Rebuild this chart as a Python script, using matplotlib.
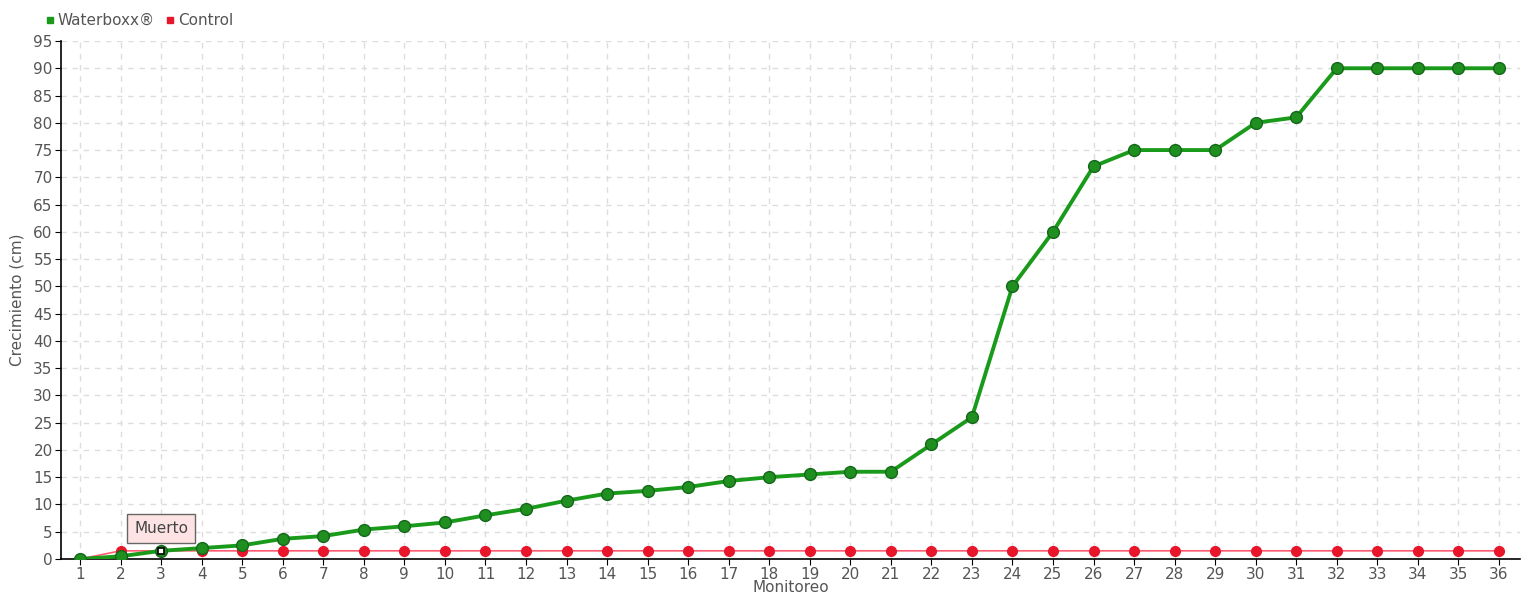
import matplotlib.pyplot as plt
from matplotlib.lines import Line2D

monitoreo = list(range(1, 37))
waterboxx = [0, 0.5, 1.5, 2, 2.5, 3.7, 4.2, 5.4, 6, 6.7, 8, 9.2, 10.7, 12, 12.5, 13.2,
             14.3, 15, 15.5, 16, 16, 21, 26, 50, 60, 72, 75, 75, 75, 80, 81, 90,
             90, 90, 90, 90]
control = [0] + [1.5] * 35
muerto_idx = 2  # monitoreo 3

plt.rcParams['font.family'] = ['Liberation Sans Narrow', 'DejaVu Sans']
txt = '#555555'
fs = 11

fig = plt.figure(figsize=(15.4, 6), dpi=100)
ax = fig.add_axes([61 / 1540, 41 / 600, 1459 / 1540, 518 / 600])

ax.plot(monitoreo, control, color='#ff5a70', lw=1.2, zorder=3,
        marker='o', ms=7, mfc='#e8162a', mec='#e8162a')
ax.plot(monitoreo, waterboxx, color='#1a9a1a', lw=2.8, zorder=4,
        marker='o', ms=8.5, mfc='#1f8f1f', mec='#14661a', mew=1)

# dead marker on control
ax.plot(monitoreo[muerto_idx], control[muerto_idx], marker='s', ms=5,
        mfc='white', mec='black', mew=1.2, zorder=6, ls='none')
ax.annotate('Muerto', xy=(monitoreo[muerto_idx], control[muerto_idx]),
            xytext=(0, 16), textcoords='offset points', ha='center', va='center',
            fontsize=fs, color='#444444', zorder=7,
            bbox=dict(boxstyle='square,pad=0.45', fc='#fde3e3', ec='#666666', lw=1))

ax.set_xlim(0.53, 36.52)
ax.set_ylim(0, 95)
ax.set_xticks(monitoreo)
ax.set_yticks(range(0, 96, 5))
ax.grid(True, ls=(0, (4, 4)), color='#dddddd', lw=1)
ax.set_axisbelow(True)
for s in ['top', 'right']:
    ax.spines[s].set_visible(False)
ax.spines['left'].set_linewidth(1.2)
ax.spines['bottom'].set_linewidth(1.2)
ax.tick_params(labelsize=fs, colors=txt, length=4, pad=2)
ax.tick_params(axis='both', color='black')
ax.set_xlabel('Monitoreo', fontsize=fs, color=txt, labelpad=-2)
ax.set_ylabel('Crecimiento (cm)', fontsize=fs, color=txt, labelpad=6)

handles = [Line2D([], [], ls='none', marker='s', ms=5, color='#1a9a1a'),
           Line2D([], [], ls='none', marker='s', ms=5, color='#e8162a')]
fig.legend(handles, ['Waterboxx®', 'Control'], loc='upper left',
           bbox_to_anchor=(44 / 1540, 1 - 13 / 600), ncol=2, frameon=False,
           fontsize=fs, labelcolor=txt, handletextpad=0.1, columnspacing=0.6,
           handlelength=0.8, borderaxespad=0, borderpad=0)

fig.savefig('out.png', dpi=100)
